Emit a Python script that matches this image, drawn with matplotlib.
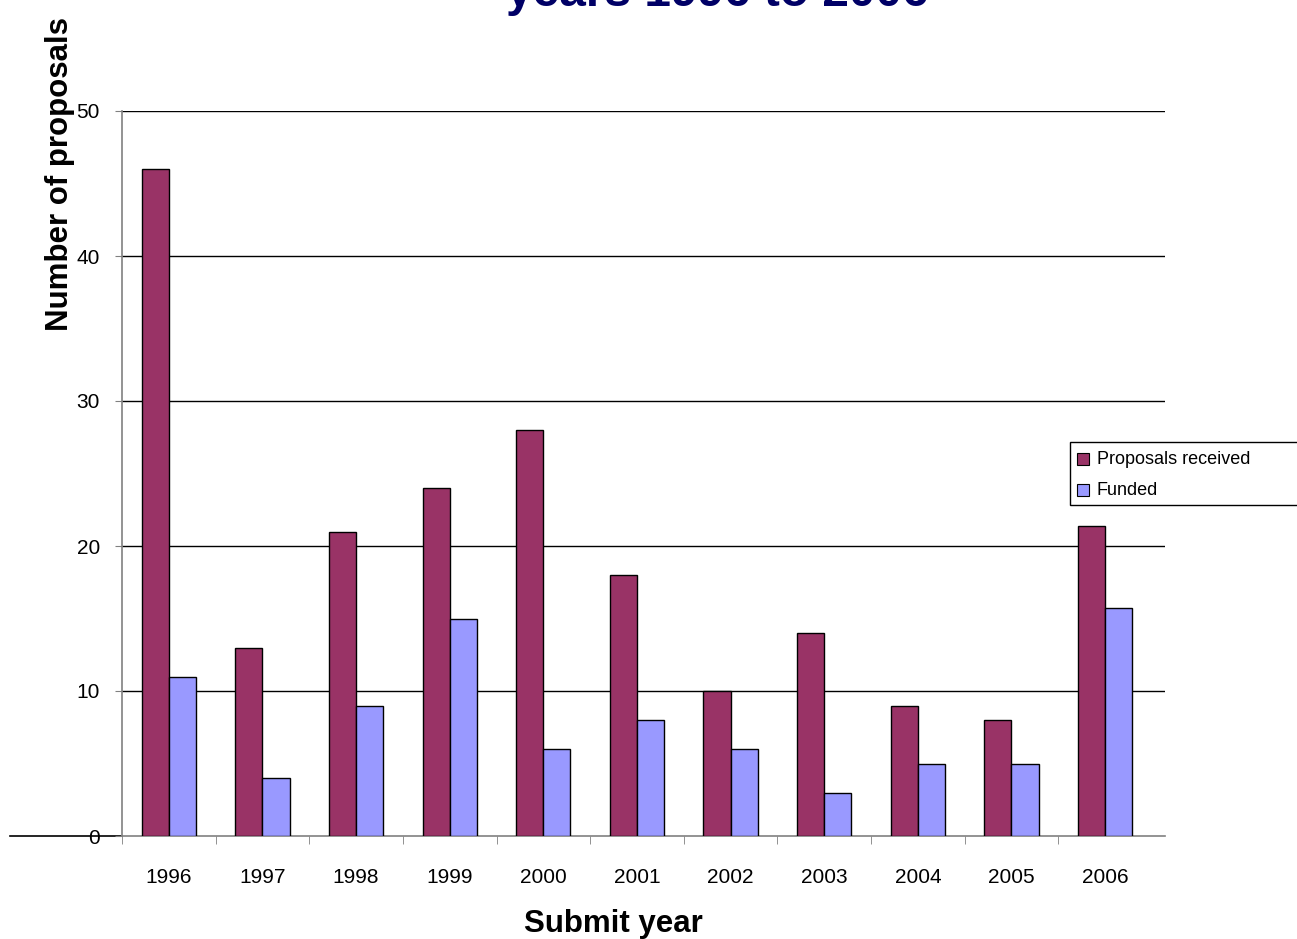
import numpy as np
import matplotlib.pyplot as plt
from matplotlib.patches import Rectangle

plt.rcParams['font.family'] = ['Liberation Sans', 'DejaVu Sans']

# data
years = ['1996', '1997', '1998', '1999', '2000', '2001', '2002', '2003', '2004', '2005', '2006']
received = [46, 13, 21, 24, 28, 18, 10, 14, 9, 8, 21.4]
funded = [11, 4, 9, 15, 6, 8, 6, 3, 5, 5, 15.7]
yticks = [0, 10, 20, 30, 40, 50]

W, H = 1297, 939
fig = plt.figure(figsize=(W / 100, H / 100), dpi=100)
ax = fig.add_axes([122 / W, 1 - 836 / H, (1165 - 122) / W, (836 - 111) / H])

x = np.arange(len(years))
bw = 0.29
ax.bar(x - bw / 2, received, bw, color='#993366', edgecolor='black', linewidth=1, zorder=3)
ax.bar(x + bw / 2, funded, bw, color='#9999FF', edgecolor='black', linewidth=1, zorder=3)

# plot area runs a bit past the last category, as in the original
ax.set_xlim(-0.5, 10.64)
ax.set_ylim(0, 50)

# gridlines
for v in yticks[1:]:
    ax.axhline(v, color='black', linewidth=1, zorder=1)
ax.plot([-112 / 1043, 0], [0, 0], transform=ax.get_yaxis_transform(),
        color='black', linewidth=1.2, clip_on=False, zorder=1)

for s in ['top', 'right']:
    ax.spines[s].set_visible(False)
for s in ['left', 'bottom']:
    ax.spines[s].set_color('#808080')
    ax.spines[s].set_linewidth(1.2)

ax.set_yticks(yticks)
ax.set_yticklabels([str(v) for v in yticks], fontsize=15)
ax.tick_params(axis='y', length=5, color='#808080', pad=11)

ax.set_xticks(x)
ax.set_xticklabels(years, fontsize=15)
ax.set_xticks(np.arange(-0.5, len(years) - 1), minor=True)
ax.tick_params(axis='x', which='major', length=0, pad=23)
ax.tick_params(axis='x', which='minor', length=6, color='#808080')

# axis titles
fig.text(60 / W, 1 - 174 / H, 'Number of proposals', rotation=90, ha='center', va='center',
         fontsize=22.5, fontweight='bold')
fig.text(613 / W, 1 - 932 / H, 'Submit year', ha='center', va='baseline',
         fontsize=22.5, fontweight='bold')

# title (upper part cut off by the figure edge)
fig.text(717 / W, 1 - 6 / H, 'years 1996 to 2006', ha='center', va='baseline',
         fontsize=34.5, fontweight='bold', color='#000066')

# legend box
fig.patches.append(Rectangle((1070 / W, 1 - 505 / H), 260 / W, 63 / H, transform=fig.transFigure,
                             facecolor='white', edgecolor='black', linewidth=1, zorder=5))
for i, (lab, col) in enumerate([('Proposals received', '#993366'), ('Funded', '#9999FF')]):
    yc = 459 + i * 31
    fig.patches.append(Rectangle((1077 / W, 1 - (yc + 6) / H), 12 / W, 12 / H,
                                 transform=fig.transFigure, facecolor=col,
                                 edgecolor='black', linewidth=0.8, zorder=6))
    fig.text(1097 / W, 1 - yc / H, lab, ha='left', va='center', fontsize=13, zorder=7)

fig.savefig('out.png', dpi=100)
